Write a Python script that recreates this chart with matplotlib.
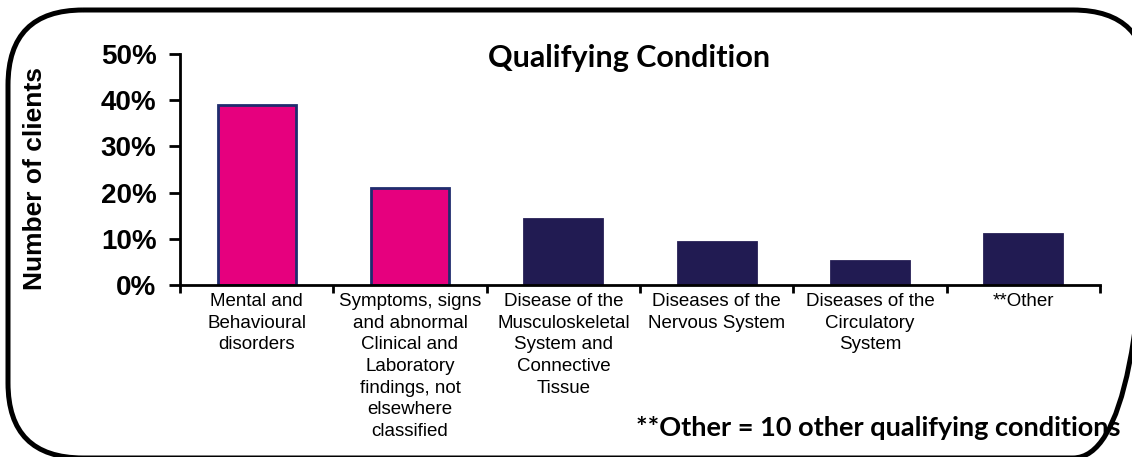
import numpy as np
import matplotlib
matplotlib.use("Agg")
import matplotlib.pyplot as plt
from matplotlib.patches import FancyBboxPatch
from matplotlib.ticker import PercentFormatter

# Qualifying condition share of clients
categories = ['Mental and\nBehavioural\ndisorders',
              'Symptoms, signs\nand abnormal\nClinical and\nLaboratory\nfindings, not\nelsewhere\nclassified',
              'Disease of the\nMusculoskeletal\nSystem and\nConnective\nTissue',
              'Diseases of the\nNervous System',
              'Diseases of the\nCirculatory\nSystem',
              '**Other']
shares = [0.389, 0.211, 0.142, 0.094, 0.052, 0.111]
highlight = [True, True, False, False, False, False]

pink = '#E6007E'
navy = '#211B52'
bar_colors = [pink if h else navy for h in highlight]
edge_colors = ['#1F2C6E' if h else navy for h in highlight]

fig = plt.figure(figsize=(11.32, 4.57), dpi=100)

# rounded frame around everything, drawn in pixel units (cut at right/bottom)
bg = fig.add_axes([0, 0, 1, 1])
bg.set_xlim(0, 1132)
bg.set_ylim(457, 0)
bg.axis('off')
frame = FancyBboxPatch((8, 10), 1140, 448, boxstyle='round,pad=0,rounding_size=75',
                       fill=False, edgecolor='black', linewidth=3.6)
bg.add_patch(frame)

ax = fig.add_axes([180 / 1132, 1 - 285 / 457, 920 / 1132, 231 / 457])
x = np.arange(len(categories))
ax.bar(x, shares, width=0.51, color=bar_colors, edgecolor=edge_colors, linewidth=2, zorder=2)

ax.set_xlim(-0.5, len(categories) - 0.5)
ax.set_ylim(0, 0.5)
ax.yaxis.set_major_formatter(PercentFormatter(1.0, decimals=0))
ax.set_yticks(np.arange(0, 0.51, 0.1))
for lab in ax.get_yticklabels():
    lab.set_fontfamily('Liberation Sans')
    lab.set_fontweight('bold')
    lab.set_fontsize(20)
ax.tick_params(axis='y', length=8, width=2, direction='out', pad=9)

ax.set_xticks(np.arange(-0.5, len(categories), 1.0))
ax.set_xticklabels([])
ax.set_xticks(x, minor=True)
ax.set_xticklabels(categories, minor=True, fontfamily='Liberation Sans', fontsize=13.5,
                   ha='center', va='top', linespacing=1.35)
ax.tick_params(axis='x', which='major', length=6, width=2, direction='out')
ax.tick_params(axis='x', which='minor', length=0, pad=6)

for side in ['top', 'right']:
    ax.spines[side].set_visible(False)
ax.spines['left'].set_linewidth(2)
ax.spines['bottom'].set_linewidth(2)
ax.set_facecolor('none')

fig.text(35 / 1132, 1 - 178 / 457, 'Number of clients', rotation=90, ha='center', va='center',
         fontfamily='Liberation Sans', fontweight='bold', fontsize=19)

fig.text(629 / 1132, 1 - 58 / 457, 'Qualifying Condition', ha='center', va='center',
         fontfamily='Lato', fontweight='bold', fontsize=22)
fig.text(1120 / 1132, 1 - 428 / 457, '**Other = 10 other qualifying conditions',
         ha='right', va='center', fontfamily='Lato', fontweight='bold', fontsize=19.5)

fig.savefig('out.png', dpi=100)
